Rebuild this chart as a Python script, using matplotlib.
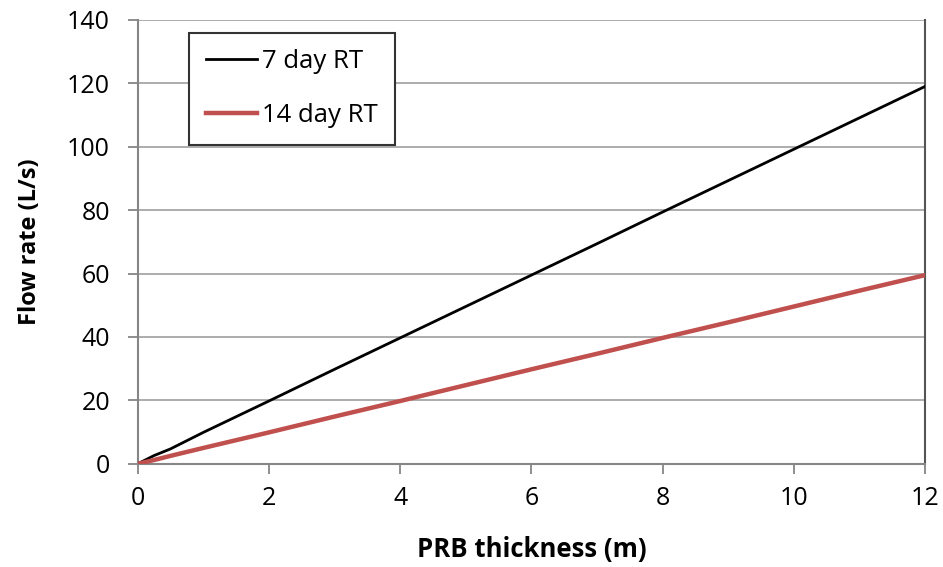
import matplotlib.pyplot as plt

plt.rcParams['font.family'] = ['Open Sans', 'DejaVu Sans']

thickness = [0, 0.25, 0.5, 1, 2, 3, 4, 5, 6, 7, 8, 9, 10, 11, 12]
rt_7 = [0, 2.6, 4.7, 9.9, 19.8, 29.8, 39.7, 49.6, 59.5, 69.4, 79.4, 89.3, 99.2, 109.1, 119.0]
rt_14 = [0, 1.2, 2.5, 5.0, 9.9, 14.9, 19.8, 24.8, 29.8, 34.7, 39.7, 44.6, 49.6, 54.6, 59.5]

GRID = '#a6a6a6'
AXIS = '#868686'

fig = plt.figure(figsize=(9.43, 5.67), dpi=100)
ax = fig.add_axes([0.146, 0.182, 0.835, 0.783])

ax.plot(thickness, rt_7, color='black', linewidth=2, label='7 day RT', zorder=3)
ax.plot(thickness, rt_14, color='#c0504d', linewidth=3.2, label='14 day RT', zorder=3)

ax.set_xlim(0, 12)
ax.set_ylim(0, 140)
ax.set_xticks(range(0, 13, 2))
ax.set_yticks(range(0, 141, 20))
ax.yaxis.grid(True, color=GRID, linewidth=1.3)
ax.set_axisbelow(True)

ax.spines['top'].set_visible(False)
for side in ['left', 'bottom', 'right']:
    ax.spines[side].set_color(AXIS)
    ax.spines[side].set_linewidth(1.5)
ax.spines['right'].set_color('#555555')

ax.tick_params(axis='both', direction='out', length=7, width=1.3, color=AXIS,
               labelsize=18)
ax.tick_params(axis='y', pad=13)
ax.tick_params(axis='x', pad=9)

ax.set_xlabel('PRB thickness (m)', fontsize=18.5, fontweight='bold', labelpad=18)
ax.set_ylabel('Flow rate (L/s)', fontsize=17, fontweight='bold', labelpad=18)

leg = ax.legend(loc='upper left', bbox_to_anchor=(0.065, 0.971), fontsize=18.5,
                frameon=True, fancybox=False, edgecolor='#333333',
                handlelength=2.0, handletextpad=0.2, borderpad=0.65,
                labelspacing=1.12, borderaxespad=0)
leg.get_frame().set_linewidth(1.5)
leg.get_frame().set_alpha(1)

plt.savefig('out.png', dpi=100)
